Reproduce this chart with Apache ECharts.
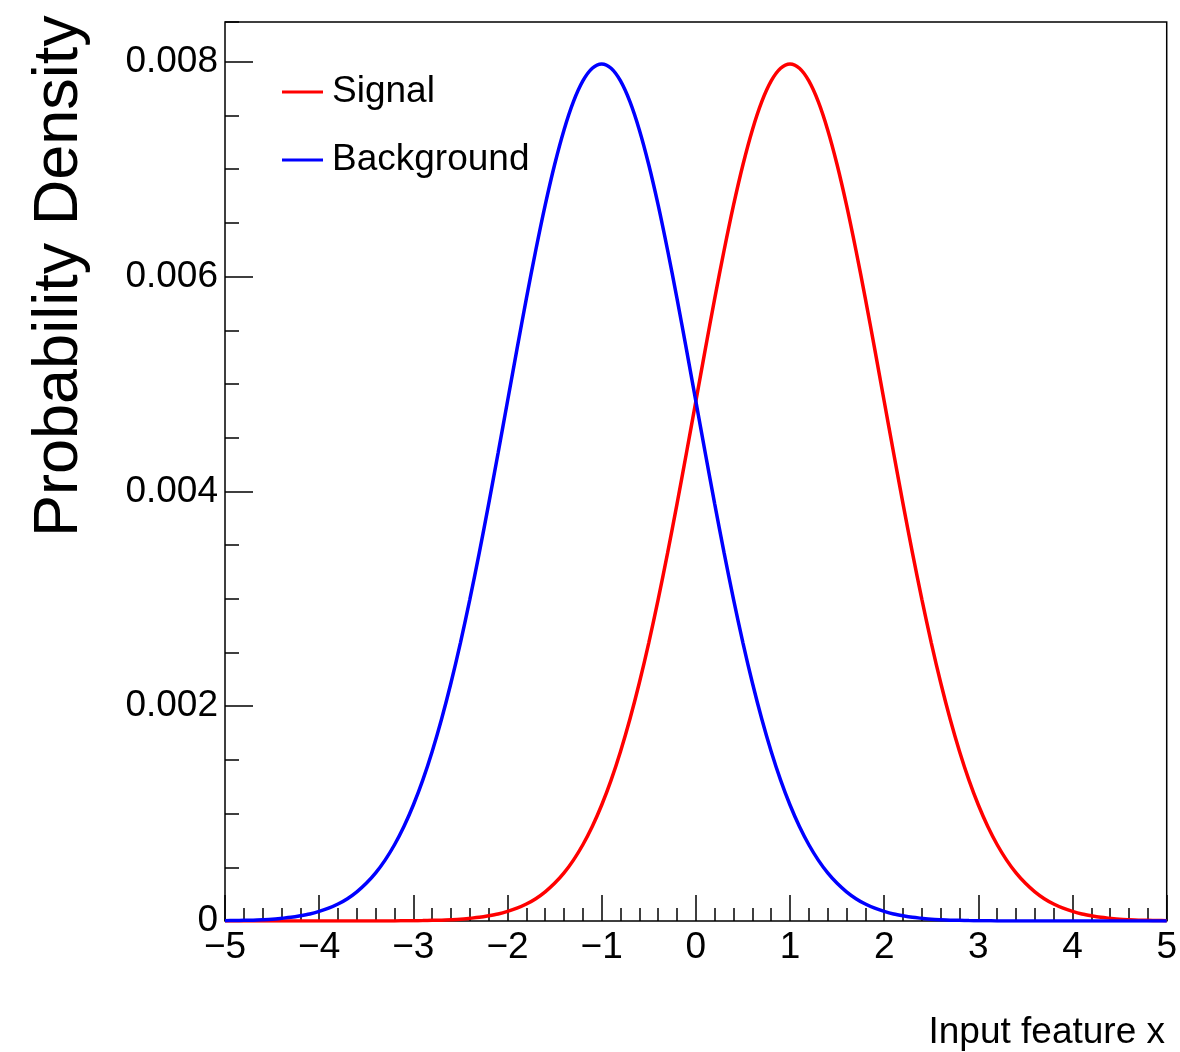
<!DOCTYPE html>
<html>
<head>
<meta charset="utf-8">
<title>Signal vs Background</title>
<script src="https://cdn.jsdelivr.net/npm/echarts@6/dist/echarts.min.js"></script>
<style>
  html, body { margin: 0; padding: 0; background: #fff; }
  #chart { width: 1180px; height: 1052px; }
</style>
</head>
<body>
<div id="chart"></div>
<script>
// bin positions (x), every 0.1
const xs = [
  -5.0, -4.9, -4.8, -4.7, -4.6, -4.5, -4.4, -4.3, -4.2, -4.1,
  -4.0, -3.9, -3.8, -3.7, -3.6, -3.5, -3.4, -3.3, -3.2, -3.1,
  -3.0, -2.9, -2.8, -2.7, -2.6, -2.5, -2.4, -2.3, -2.2, -2.1,
  -2.0, -1.9, -1.8, -1.7, -1.6, -1.5, -1.4, -1.3, -1.2, -1.1,
  -1.0, -0.9, -0.8, -0.7, -0.6, -0.5, -0.4, -0.3, -0.2, -0.1,
  0.0, 0.1, 0.2, 0.3, 0.4, 0.5, 0.6, 0.7, 0.8, 0.9,
  1.0, 1.1, 1.2, 1.3, 1.4, 1.5, 1.6, 1.7, 1.8, 1.9,
  2.0, 2.1, 2.2, 2.3, 2.4, 2.5, 2.6, 2.7, 2.8, 2.9,
  3.0, 3.1, 3.2, 3.3, 3.4, 3.5, 3.6, 3.7, 3.8, 3.9,
  4.0, 4.1, 4.2, 4.3, 4.4, 4.5, 4.6, 4.7, 4.8, 4.9,
  5.0
];

// signal density (red), peak at x = 1
const signalVals = [
  0, 0, 0, 0, 0, 0, 0, 0, 0, 0,
  0, 0, 0, 0, 0, 0, 0, 0.000001, 0.000001, 0.000002,
  0.000003, 0.000004, 0.000006, 0.000008, 0.000012, 0.000017, 0.000025, 0.000034, 0.000048, 0.000065,
  0.000089, 0.000119, 0.000158, 0.000208, 0.000272, 0.000351, 0.000448, 0.000567, 0.000710, 0.000880,
  0.001080, 0.001312, 0.001579, 0.001881, 0.002218, 0.002590, 0.002995, 0.003427, 0.003884, 0.004357,
  0.004839, 0.005322, 0.005794, 0.006245, 0.006665, 0.007041, 0.007365, 0.007628, 0.007821, 0.007939,
  0.007979, 0.007939, 0.007821, 0.007628, 0.007365, 0.007041, 0.006665, 0.006245, 0.005794, 0.005322,
  0.004839, 0.004357, 0.003884, 0.003427, 0.002995, 0.002590, 0.002218, 0.001881, 0.001579, 0.001312,
  0.001080, 0.000880, 0.000710, 0.000567, 0.000448, 0.000351, 0.000272, 0.000208, 0.000158, 0.000119,
  0.000089, 0.000065, 0.000048, 0.000034, 0.000025, 0.000017, 0.000012, 0.000008, 0.000006, 0.000004,
  0.000003
];

// background density (blue), peak at x = -1
const backgroundVals = [
  0.000003, 0.000004, 0.000006, 0.000008, 0.000012, 0.000017, 0.000025, 0.000034, 0.000048, 0.000065,
  0.000089, 0.000119, 0.000158, 0.000208, 0.000272, 0.000351, 0.000448, 0.000567, 0.000710, 0.000880,
  0.001080, 0.001312, 0.001579, 0.001881, 0.002218, 0.002590, 0.002995, 0.003427, 0.003884, 0.004357,
  0.004839, 0.005322, 0.005794, 0.006245, 0.006665, 0.007041, 0.007365, 0.007628, 0.007821, 0.007939,
  0.007979, 0.007939, 0.007821, 0.007628, 0.007365, 0.007041, 0.006665, 0.006245, 0.005794, 0.005322,
  0.004839, 0.004357, 0.003884, 0.003427, 0.002995, 0.002590, 0.002218, 0.001881, 0.001579, 0.001312,
  0.001080, 0.000880, 0.000710, 0.000567, 0.000448, 0.000351, 0.000272, 0.000208, 0.000158, 0.000119,
  0.000089, 0.000065, 0.000048, 0.000034, 0.000025, 0.000017, 0.000012, 0.000008, 0.000006, 0.000004,
  0.000003, 0.000002, 0.000001, 0.000001, 0, 0, 0, 0, 0, 0,
  0, 0, 0, 0, 0, 0, 0, 0, 0, 0,
  0
];

const seriesNames = ['Signal', 'Background'];
const seriesColors = ['#ff0000', '#0000ff'];

const xMin = -5, xMax = 5;
const yMax = 0.00837;   // frame top (1.05 x peak)
const yMajor = 0.002;
const yMinor = 0.0005;

const FONT = '"Liberation Sans", Arial, Helvetica, sans-serif';

function pairs(vals) {
  return xs.map((x, i) => [x, vals[i]]);
}

let chart = echarts.init(document.getElementById('chart'), null, { renderer: 'canvas' });

let tickLine = { color: '#000', width: 1.5 };

let option = {
  animation: false,
  backgroundColor: '#fff',
  grid: {
    left: 225,
    top: 22,
    right: 11,
    bottom: 131,
    show: true,
    borderColor: '#000',
    borderWidth: 1.5,
    backgroundColor: 'transparent'
  },
  legend: {
    data: seriesNames,
    orient: 'vertical',
    left: 282,
    top: 72,
    padding: 0,
    icon: 'rect',
    itemWidth: 41,
    itemHeight: 3,
    itemGap: 28,
    selectedMode: false,
    textStyle: {
      fontFamily: FONT,
      fontSize: 37,
      lineHeight: 40,
      color: '#000',
      padding: [0, 0, 0, 4]
    }
  },
  xAxis: {
    type: 'value',
    min: xMin,
    max: xMax,
    interval: 1,
    axisLine: { show: false, onZero: false },
    splitLine: { show: false },
    axisTick: { show: true, inside: true, length: 26, lineStyle: tickLine },
    minorTick: { show: true, splitNumber: 5, length: 13, lineStyle: tickLine },
    axisLabel: {
      margin: 8,
      fontFamily: FONT,
      fontSize: 37,
      color: '#000',
      formatter: v => String(v).replace('-', '\u2212')
    }
  },
  yAxis: [
    {
      type: 'value',
      position: 'left',
      min: 0,
      max: yMax,
      interval: yMajor,
      axisLine: { show: false, onZero: false },
      splitLine: { show: false },
      axisTick: { show: true, inside: true, length: 28, lineStyle: tickLine },
      axisLabel: {
        margin: 7,
        showMaxLabel: false,
        fontFamily: FONT,
        fontSize: 37,
        color: '#000',
        formatter: function (v) {
          if (v === 0) return '0';
          let k = v / yMajor;
          if (Math.abs(k - Math.round(k)) > 1e-6) return '';
          return v.toFixed(3);
        }
      }
    },
    {
      // short ticks every 0.0005
      type: 'value',
      position: 'left',
      offset: 0,
      min: 0,
      max: yMax,
      interval: yMinor,
      axisLine: { show: false, onZero: false },
      splitLine: { show: false },
      axisLabel: { show: false },
      axisTick: { show: true, inside: true, length: 14, lineStyle: tickLine }
    }
  ],
  series: [
    {
      name: seriesNames[0],
      type: 'line',
      data: pairs(signalVals),
      showSymbol: false,
      smooth: 0.3,
      color: seriesColors[0],
      lineStyle: { width: 3.5, color: seriesColors[0] },
      z: 3
    },
    {
      name: seriesNames[1],
      type: 'line',
      data: pairs(backgroundVals),
      showSymbol: false,
      smooth: 0.3,
      color: seriesColors[1],
      lineStyle: { width: 3.5, color: seriesColors[1] },
      z: 4
    }
  ],
  graphic: [
    {
      type: 'text',
      x: 60,
      y: 537,
      rotation: Math.PI / 2,
      style: {
        text: 'Probability Density',
        fontFamily: FONT,
        fontSize: 63,
        fill: '#000',
        align: 'left',
        verticalAlign: 'middle'
      }
    },
    {
      type: 'text',
      x: 1165,
      y: 1033,
      style: {
        text: 'Input feature x',
        fontFamily: FONT,
        fontSize: 37,
        fill: '#000',
        align: 'right',
        verticalAlign: 'middle'
      }
    }
  ]
};

chart.setOption(option);
</script>
</body>
</html>
